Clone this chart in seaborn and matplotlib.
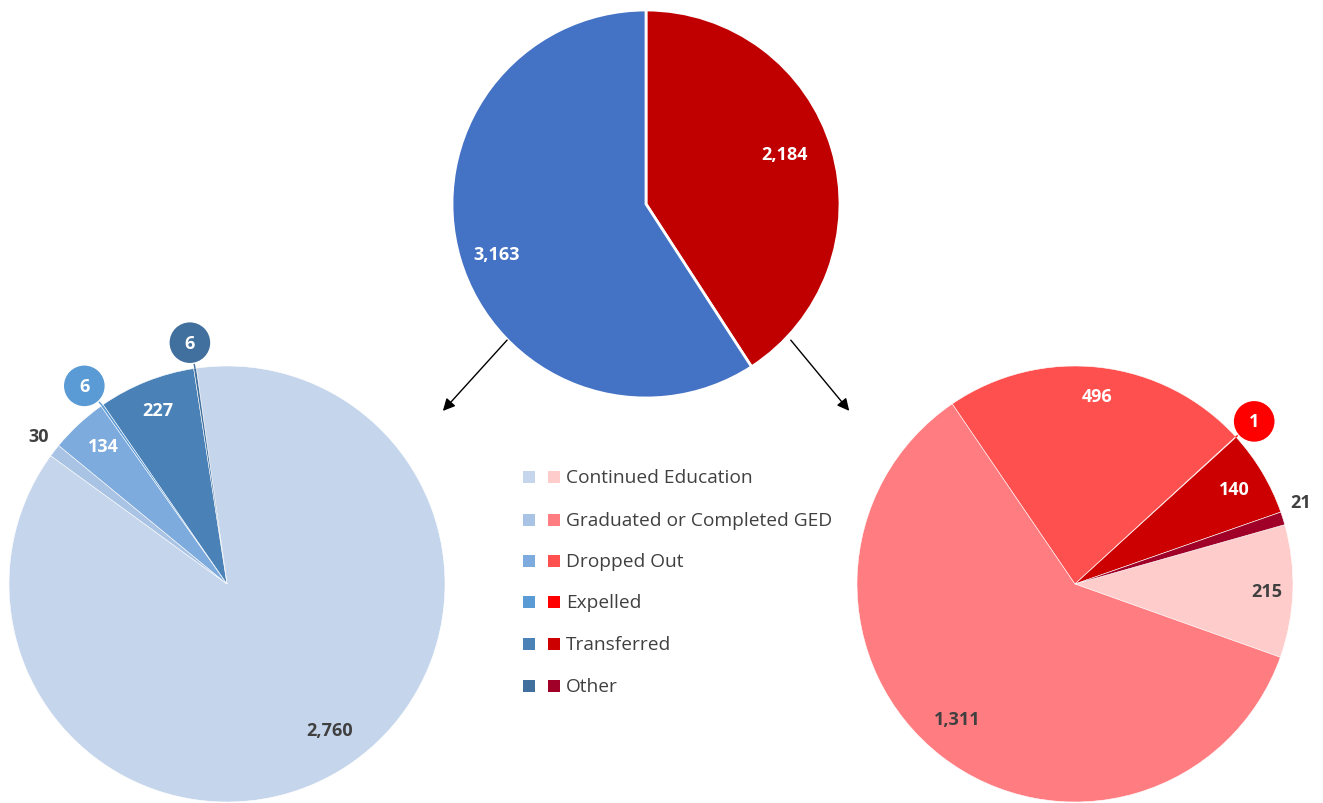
import numpy as np
import matplotlib
matplotlib.use("Agg")
import matplotlib.pyplot as plt
import seaborn as sns

# ---- data -------------------------------------------------------------
categories = ["Continued Education", "Graduated or Completed GED", "Dropped Out",
              "Expelled", "Transferred", "Other"]
overall_labels = ["Red group", "Blue group"]
overall_values = [2184, 3163]
blue_values = [2760, 30, 134, 6, 227, 6]
red_values = [215, 1311, 496, 1, 140, 21]

# ---- styling ----------------------------------------------------------
sns.set_theme(style="white")
plt.rcParams["font.family"] = ["Open Sans", "DejaVu Sans"]

overall_colors = ["#C00000", "#4472C4"]
blue_colors = sns.color_palette(["#C5D5EB", "#A9C3E5", "#7EABDD", "#5B9BD5", "#4A82B8", "#41709E"])
red_colors = sns.color_palette(["#FFCCCC", "#FF7C80", "#FF5050", "#FF0000", "#CC0000", "#A00028"])
TXT = "#404040"
LABEL_SIZE = 13

W, H = 1323, 804
fig = plt.figure(figsize=(W / 100, H / 100), dpi=100)
ax = fig.add_axes([0, 0, 1, 1])
ax.set_xlim(0, W)
ax.set_ylim(0, H)
ax.set_aspect("equal")
ax.axis("off")


def draw_pie(values, colors, center, radius, start, edge_lw):
    wedges, _ = ax.pie(values, colors=colors, center=center, radius=radius,
                       startangle=start, counterclock=False, frame=True,
                       wedgeprops=dict(edgecolor="white", linewidth=edge_lw))
    return wedges


def place(wedge, center, radius, frac, dtheta=0.0):
    mid = 0.5 * (wedge.theta1 + wedge.theta2) + dtheta
    t = np.deg2rad(mid)
    return center[0] + frac * radius * np.cos(t), center[1] + frac * radius * np.sin(t)


def value_label(wedge, value, center, radius, frac, color, dtheta=0.0):
    x, y = place(wedge, center, radius, frac, dtheta)
    ax.text(x, y, f"{value:,}", ha="center", va="center", fontsize=LABEL_SIZE,
            fontweight="bold", color=color, zorder=5)


def bubble_label(wedge, value, center, radius, frac, fill, dtheta=0.0):
    x, y = place(wedge, center, radius, frac, dtheta)
    t = np.deg2rad(0.5 * (wedge.theta1 + wedge.theta2))
    ex, ey = center[0] + radius * np.cos(t), center[1] + radius * np.sin(t)
    ax.plot([ex, x], [ey, y], color=fill, lw=1.0, zorder=4)
    ax.add_patch(plt.Circle((x, y), 21, facecolor=fill, edgecolor="white", lw=1.0, zorder=5))
    ax.text(x, y, f"{value:,}", ha="center", va="center", fontsize=LABEL_SIZE,
            fontweight="bold", color="white", zorder=6)


# ---- overall pie ------------------------------------------------------
c_top, r_top = (646, H - 205), 194
w_top = draw_pie(overall_values, overall_colors, c_top, r_top, 90, 2.0)
value_label(w_top[0], overall_values[0], c_top, r_top, 0.76, "white", 3.3)
value_label(w_top[1], overall_values[1], c_top, r_top, 0.81, "white", 2.0)

# ---- blue breakdown ---------------------------------------------------
c_b, r_b = (227, H - 585), 218
w_b = draw_pie(blue_values, blue_colors, c_b, r_b, 98.1, 0.4)
value_label(w_b[0], blue_values[0], c_b, r_b, 0.82, TXT, 4.0)
value_label(w_b[1], blue_values[1], c_b, r_b, 1.10, TXT, -0.3)
value_label(w_b[2], blue_values[2], c_b, r_b, 0.85, "white", -1.0)
bubble_label(w_b[3], blue_values[3], c_b, r_b, 1.12, blue_colors[3], 0.8)
value_label(w_b[4], blue_values[4], c_b, r_b, 0.86, "white", 0.0)
bubble_label(w_b[5], blue_values[5], c_b, r_b, 1.12, blue_colors[5], 0.3)

# ---- red breakdown ----------------------------------------------------
c_r, r_r = (1075, H - 585), 218
w_r = draw_pie(red_values, red_colors, c_r, r_r, 15.8, 0.4)
value_label(w_r[0], red_values[0], c_r, r_r, 0.88, TXT, -0.1)
value_label(w_r[1], red_values[1], c_r, r_r, 0.82, TXT, -3.4)
value_label(w_r[2], red_values[2], c_r, r_r, 0.87, "white", -0.2)
bubble_label(w_r[3], red_values[3], c_r, r_r, 1.11, red_colors[3], -0.2)
value_label(w_r[4], red_values[4], c_r, r_r, 0.85, "white", 0.0)
value_label(w_r[5], red_values[5], c_r, r_r, 1.10, TXT, 2.5)

# ---- arrows from the overall pie to its breakdowns ----------------------
arrow = dict(arrowstyle="-|>", color="black", lw=1.0, mutation_scale=18)
ax.annotate("", xy=(441, H - 414), xytext=(509, H - 339), arrowprops=arrow)
ax.annotate("", xy=(851, H - 414), xytext=(789, H - 339), arrowprops=arrow)

# ---- shared legend ----------------------------------------------------
rows_y = [478, 521, 562, 603, 645, 687]
for name, yb, cb, cr in zip(categories, rows_y, blue_colors, red_colors):
    y = H - yb
    ax.add_patch(plt.Rectangle((523, y - 6), 12, 12, facecolor=cb, edgecolor="none"))
    ax.add_patch(plt.Rectangle((548, y - 6), 12, 12, facecolor=cr, edgecolor="none"))
    ax.text(566, y, name, ha="left", va="center", fontsize=13.8, color=TXT)

fig.savefig("out.png", dpi=100, facecolor="white")
